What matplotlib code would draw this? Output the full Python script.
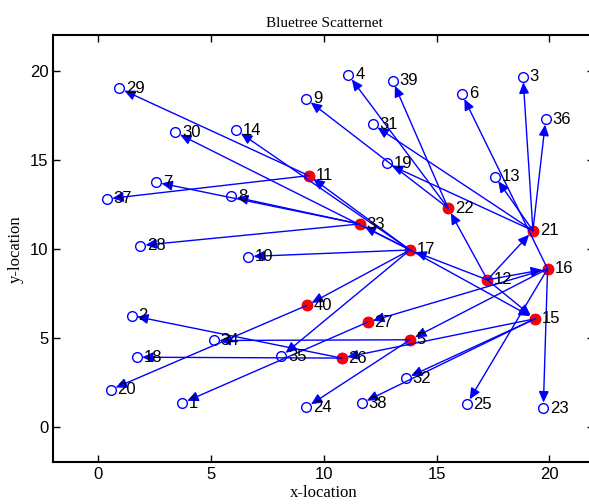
import numpy as np
import matplotlib
matplotlib.use("Agg")
import matplotlib.pyplot as plt

# --- node positions (node id = index + 1) ---
node_x = [3.71, 1.47, 18.83, 11.09, 13.82, 16.12, 2.55, 5.90, 9.22, 6.63,
          9.33, 17.25, 17.59, 6.12, 19.36, 19.92, 13.82, 1.69, 12.78, 0.54,
          19.27, 15.51, 19.73, 9.22, 16.34, 10.79, 11.94, 1.84, 0.92, 3.40,
          12.17, 13.64, 11.58, 5.12, 8.11, 19.84, 0.37, 11.68, 13.05, 9.24]
node_y = [1.33, 6.25, 19.68, 19.78, 4.89, 18.71, 13.75, 12.96, 18.43, 9.57,
          14.12, 8.26, 14.06, 16.67, 6.07, 8.88, 9.94, 3.91, 14.81, 2.08,
          11.03, 12.29, 1.05, 1.09, 1.27, 3.86, 5.88, 10.19, 19.03, 16.56,
          17.00, 2.73, 11.40, 4.85, 3.95, 17.30, 12.81, 1.33, 19.46, 6.82]

# masters (filled red)
masters = [5, 11, 12, 15, 16, 17, 21, 22, 26, 27, 33, 40]

# links parent -> child
edge_from = [12, 12, 12, 12, 12,
             17, 17, 17, 17, 17, 17, 17, 17,
             33, 33, 33,
             11, 11,
             22, 22, 22,
             21, 21, 21, 21, 21,
             16, 16, 16, 16, 16,
             15, 15, 15,
             5, 5,
             40, 27, 26, 26]
edge_to = [17, 21, 16, 22, 15,
           15, 11, 33, 10, 40, 35, 30, 14,
           7, 8, 28,
           29, 37,
           4, 39, 9,
           3, 36, 31, 19, 13,
           6, 23, 25, 5, 27,
           32, 38, 26,
           34, 24,
           20, 1, 2, 18]

fig = plt.figure(figsize=(5.89, 5.04), dpi=100)
ax = fig.add_axes([0.0905, 0.0827, 0.9188, 0.8469])

for a, b in zip(edge_from, edge_to):
    ax.annotate('', xy=(node_x[b - 1], node_y[b - 1]),
                xytext=(node_x[a - 1], node_y[a - 1]),
                arrowprops=dict(arrowstyle='-|>,head_length=0.55,head_width=0.25',
                                color='blue', lw=1.0, shrinkA=0, shrinkB=4,
                                mutation_scale=12))

ax.plot(node_x, node_y, 'o', ls='none', mfc='none', mec='blue', ms=7, mew=1.0)
mx = [node_x[m - 1] for m in masters]
my = [node_y[m - 1] for m in masters]
ax.plot(mx, my, 'o', ls='none', mfc='red', mec='red', ms=7.5)

for i, (x, y) in enumerate(zip(node_x, node_y)):
    ax.text(x + 0.3, y, str(i + 1), fontsize=12, va='center', ha='left',
            family='Liberation Sans', color='black')

ax.set_xlim(-2, 22)
ax.set_ylim(-2, 22)
ax.set_xticks([0, 5, 10, 15, 20])
ax.set_yticks([0, 5, 10, 15, 20])
ax.tick_params(direction='in', top=True, right=True, length=5, width=1,
               labelsize=12)
for lab in ax.get_xticklabels() + ax.get_yticklabels():
    lab.set_family('Liberation Sans')
for s in ax.spines.values():
    s.set_linewidth(1.5)

ax.set_title('Bluetree Scatternet', family='Liberation Serif', fontsize=11)
ax.set_xlabel('x-location', family='Liberation Serif', fontsize=12, labelpad=2)
ax.set_ylabel('y-location', family='Liberation Serif', fontsize=12)

fig.savefig('out.png', dpi=100)
